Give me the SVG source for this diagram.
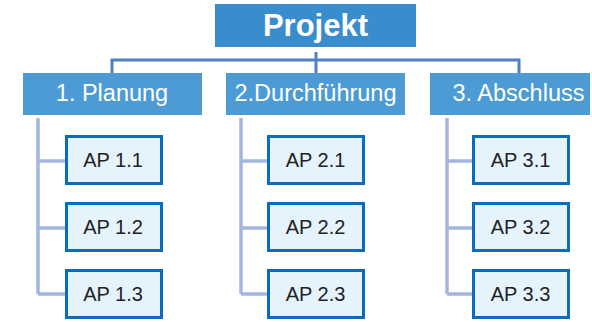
<svg xmlns="http://www.w3.org/2000/svg" width="592" height="322" viewBox="0 0 592 322">
<style>
.root{fill:#3a8dcc}
.l1{fill:#4c9bd5}
.ap{fill:#e5f3fd;stroke:#0b6bbd;stroke-width:3}
.t1{font-family:"Liberation Sans",Arial,sans-serif;fill:#ffffff;text-anchor:middle}
.t2{font-family:"Liberation Sans",Arial,sans-serif;fill:#222222;font-size:20px;text-anchor:middle}
.top{fill:none;stroke:#4f7fc4;stroke-width:3}
.sub{fill:none;stroke:#a3b6de;stroke-width:3.5}
</style>
<rect width="592" height="322" fill="#ffffff"/>
<g id="connectors">
<path class="top" d="M112 73V60H519V73M316 52V73"/>
<path class="sub" d="M38 118V294M38 161H66M38 228H66M38 294H66"/>
<path class="sub" d="M241 118V294M241 161H268M241 228H268M241 294H268"/>
<path class="sub" d="M447 118V294M447 161H473M447 228H473M447 294H473"/>
</g>
<g id="projekt"><rect class="root" x="215" y="4" width="201" height="43"/><text class="t1" x="315.5" y="36" font-size="31" font-weight="bold">Projekt</text></g>
<g id="planung"><rect class="l1" x="23" y="73" width="179" height="42"/><text class="t1" x="112" y="101" font-size="23.5">1. Planung</text></g>
<g id="durchfuehrung"><rect class="l1" x="226" y="73" width="179" height="42"/><text class="t1" x="315.5" y="101" font-size="23.5">2.Durchführung</text></g>
<g id="abschluss"><rect class="l1" x="430" y="73" width="160" height="42"/><text class="t1" x="518.5" y="101" font-size="23.5">3. Abschluss</text></g>
<g id="ap11"><rect class="ap" x="66.5" y="136.5" width="95" height="47"/><text class="t2" x="113" y="167">AP 1.1</text></g>
<g id="ap12"><rect class="ap" x="66.5" y="203.5" width="95" height="47"/><text class="t2" x="113" y="234">AP 1.2</text></g>
<g id="ap13"><rect class="ap" x="66.5" y="270.5" width="95" height="47"/><text class="t2" x="113" y="301">AP 1.3</text></g>
<g id="ap21"><rect class="ap" x="268.5" y="136.5" width="95" height="47"/><text class="t2" x="315.5" y="167">AP 2.1</text></g>
<g id="ap22"><rect class="ap" x="268.5" y="203.5" width="95" height="47"/><text class="t2" x="315.5" y="234">AP 2.2</text></g>
<g id="ap23"><rect class="ap" x="268.5" y="270.5" width="95" height="47"/><text class="t2" x="315.5" y="301">AP 2.3</text></g>
<g id="ap31"><rect class="ap" x="473.5" y="136.5" width="95" height="47"/><text class="t2" x="520.5" y="167">AP 3.1</text></g>
<g id="ap32"><rect class="ap" x="473.5" y="203.5" width="95" height="47"/><text class="t2" x="520.5" y="234">AP 3.2</text></g>
<g id="ap33"><rect class="ap" x="473.5" y="270.5" width="95" height="47"/><text class="t2" x="520.5" y="301">AP 3.3</text></g>
</svg>
